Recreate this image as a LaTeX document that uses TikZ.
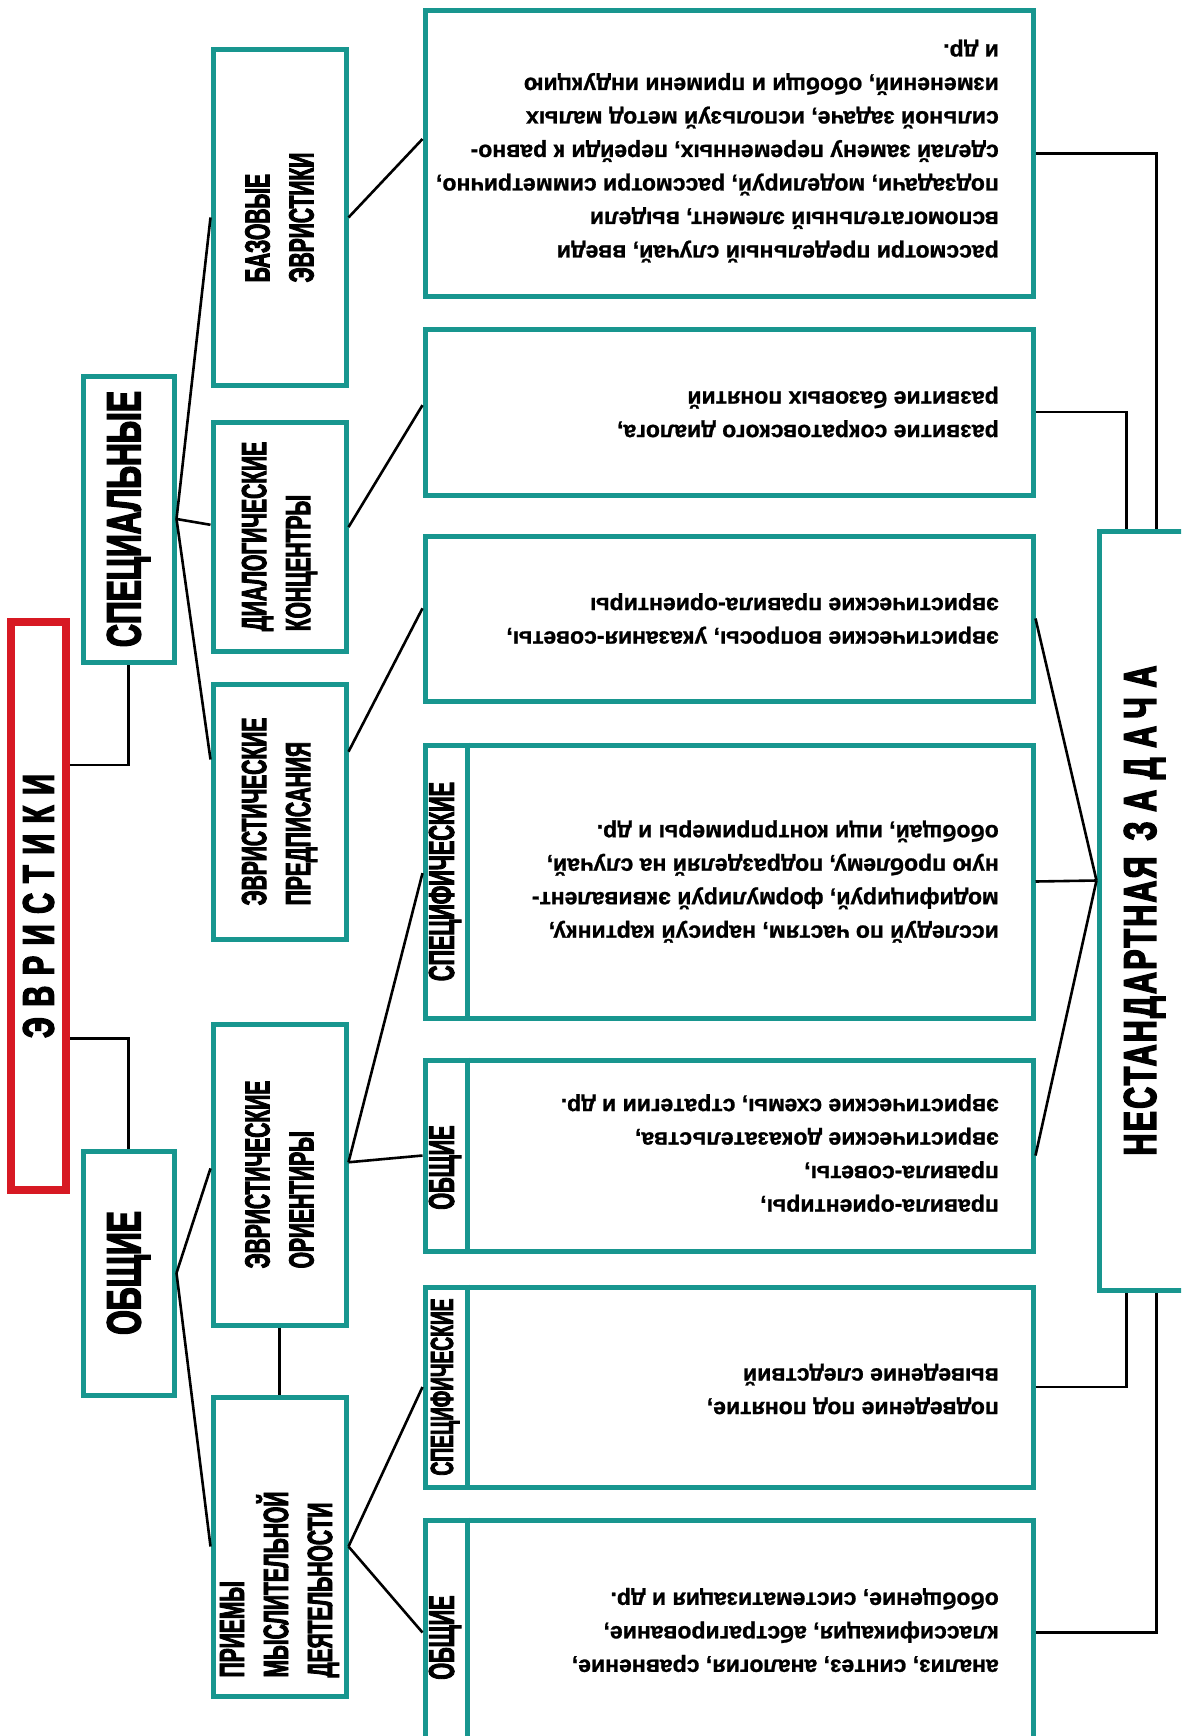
\documentclass[tikz,border=0pt]{standalone}
\usepackage{fontspec}
\setmainfont{Liberation Sans}
\newfontfamily\bodyfont{Liberation Sans}[UprightFont={* Bold}, FakeBold=1]
\newfontfamily\headfont{Liberation Sans}[UprightFont={* Bold}, FakeStretch=0.6, FakeBold=2.5]
\newfontfamily\bigfont{Liberation Sans}[UprightFont={* Bold}, FakeStretch=0.66, FakeBold=3]
\usetikzlibrary{calc}
\definecolor{boxteal}{RGB}{24,150,143}
\definecolor{boxred}{RGB}{215,25,35}
\tikzset{
  tealbox/.style={draw=boxteal, line width=5pt, fill=white, inner sep=0pt},
  redbox/.style={draw=boxred, line width=8pt, fill=white, inner sep=0pt},
  link/.style={line width=2.6pt},
  headlbl/.style={rotate=90, align=left, inner sep=0pt, font=\headfont\fontsize{35}{44}\selectfont},
  bandlbl/.style={rotate=90, inner sep=0pt, font=\headfont\fontsize{36}{38}\selectfont},
  biglbl/.style={rotate=90, inner sep=0pt, font=\bigfont\fontsize{48}{50}\selectfont},
  bodytxt/.style={rotate=180, anchor=west, align=left, inner sep=0pt, font=\bodyfont\fontsize{23}{33.5}\selectfont},
}

\begin{document}
\begin{tikzpicture}[x=1pt,y=-1pt]
\useasboundingbox (0,0) rectangle (1181,1736);
\clip (0,0) rectangle (1181,1736);

% root
\node[redbox, minimum width=55pt, minimum height=568pt] (evr) at (38.5,906) {};
\node[biglbl, font=\bigfont\fontsize{44}{46}\selectfont] (evrt) at (evr.center) {\addfontfeature{LetterSpace=24}ЭВРИСТИКИ};

% first level
\node[tealbox, minimum width=91pt, minimum height=286pt] (spec) at (128.5,519) {};
\node[biglbl] (spect) at (spec.center) {СПЕЦИАЛЬНЫЕ};
\node[tealbox, minimum width=91pt, minimum height=244pt] (obsh) at (128.5,1273) {};
\node[biglbl] (obsht) at (obsh.center) {ОБЩИЕ};

% second level
\node[tealbox, minimum width=133pt, minimum height=335pt] (baz) at (279.5,217.5) {};
\node[headlbl] (bazt) at (baz.center) {БАЗОВЫЕ\\ЭВРИСТИКИ};
\node[tealbox, minimum width=133pt, minimum height=229pt] (dial) at (279.5,536.5) {};
\node[headlbl] (dialt) at (dial.center) {ДИАЛОГИЧЕСКИЕ\\КОНЦЕНТРЫ};
\node[tealbox, minimum width=133pt, minimum height=255pt] (presc) at (279.5,811.5) {};
\node[headlbl] (presct) at (presc.center) {ЭВРИСТИЧЕСКИЕ\\ПРЕДПИСАНИЯ};
\node[tealbox, minimum width=133pt, minimum height=301pt] (orient) at (279.5,1174.5) {};
\node[headlbl] (orientt) at (orient.center) {ЭВРИСТИЧЕСКИЕ\\ОРИЕНТИРЫ};
\node[tealbox, minimum width=133pt, minimum height=299pt] (priem) at (279.5,1546.5) {};
\node[headlbl] (priemt) at ([yshift=-38pt]priem.center) {ПРИЕМЫ\\МЫСЛИТЕЛЬНОЙ\\ДЕЯТЕЛЬНОСТИ};

% third level
\node[tealbox, minimum width=608pt, minimum height=285pt] (b1) at (729,153.5) {};
\node[bodytxt] (b1t) at (999,151) {рассмотри предельный случай, введи\\вспомогательный элемент, выдели\\подзадачи, моделируй, рассмотри симметрично,\\сделай замену переменных, перейди к равно-\\сильной задаче, используй метод малых\\изменений, обобщи и примени индукцию\\и др.};
\node[tealbox, minimum width=608pt, minimum height=166pt] (b2) at (729,412) {};
\node[bodytxt] (b2t) at (999,412) {развитие сократовского диалога,\\развитие базовых понятий};
\node[tealbox, minimum width=608pt, minimum height=165pt] (b3) at (729,618.5) {};
\node[bodytxt] (b3t) at (999,618.5) {эвристические вопросы, указания-советы,\\эвристические правила-ориентиры};
\node[tealbox, minimum width=608pt, minimum height=273pt] (b4) at (729,881.5) {};
\node[bodytxt] (b4t) at (999,881.5) {исследуй по частям, нарисуй картинку,\\модифицируй, формулируй эквивалент-\\ную проблему, подразделяй на случай,\\обобщай, ищи контрпримеры и др.};
\node[tealbox, minimum width=608pt, minimum height=191pt] (b5) at (729,1155.5) {};
\node[bodytxt] (b5t) at (999,1153) {правила-ориентиры,\\правила-советы,\\эвристические доказательства,\\эвристические схемы, стратегии и др.};
\node[tealbox, minimum width=608pt, minimum height=200pt] (b6) at (729,1387) {};
\node[bodytxt] (b6t) at (999,1389) {подведение под понятие,\\выведение следствий};
\node[tealbox, minimum width=608pt, minimum height=225pt] (b7) at (729,1632.5) {};
\node[bodytxt] (b7t) at (999,1630) {анализ, синтез, аналогия, сравнение,\\классификация, абстрагирование,\\обобщение, систематизация и др.};

% side bands
\foreach \b in {b4,b5,b6,b7}
  \draw[boxteal, line width=5pt] ([xshift=45pt]\b.north west) -- ([xshift=45pt]\b.south west);
\node[bandlbl] (b4s) at ([xshift=22.5pt]b4.west) {СПЕЦИФИЧЕСКИЕ};
\node[bandlbl] (b5s) at ([xshift=22.5pt,yshift=-12pt]b5.west) {ОБЩИЕ};
\node[bandlbl, font=\headfont\fontsize{32}{34}\selectfont] (b6s) at ([xshift=22.5pt]b6.west) {СПЕЦИФИЧЕСКИЕ};
\node[bandlbl] (b7s) at ([xshift=22.5pt,yshift=-5pt]b7.west) {ОБЩИЕ};

% target
\node[tealbox, minimum width=91pt, minimum height=759pt] (nz) at (1144.5,910.5) {};
\node[biglbl, font=\bigfont\fontsize{46}{48}\selectfont] (nzt) at (nz.center) {{\addfontfeature{LetterSpace=5}НЕСТАНДАРТНАЯ}\hspace{16pt}{\addfontfeature{LetterSpace=21}ЗАДАЧА}};
\coordinate (nzin) at ([yshift=30pt]nz.west);

% links
\draw[link] ($(evr.north east)!0.255!(evr.south east)$) -| (spec.south);
\draw[link] ($(evr.north east)!0.73!(evr.south east)$) -| (obsh.north);
\draw[link] (spec.east) -- (baz.west);
\draw[link] (spec.east) -- ($(dial.north west)!0.45!(dial.south west)$);
\draw[link] (spec.east) -- ($(presc.north west)!0.3!(presc.south west)$);
\draw[link] (obsh.east) -- ($(orient.north west)!0.48!(orient.south west)$);
\draw[link] (obsh.east) -- (priem.west);
\draw[link] (orient.south) -- (priem.north);
\draw[link] (baz.east) -- ($(b1.north west)!0.45!(b1.south west)$);
\draw[link] ($(dial.north east)!0.46!(dial.south east)$) -- ($(b2.north west)!0.46!(b2.south west)$);
\draw[link] ($(presc.north east)!0.27!(presc.south east)$) -- ($(b3.north west)!0.44!(b3.south west)$);
\draw[link] ($(orient.north east)!0.46!(orient.south east)$) -- ($(b4.north west)!0.47!(b4.south west)$);
\draw[link] ($(orient.north east)!0.46!(orient.south east)$) -- (b5.west);
\draw[link] (priem.east) -- (b6.west);
\draw[link] (priem.east) -- (b7.west);
\draw[link] (b1.east) -| ([xshift=60pt]nz.north west);
\draw[link] (b2.east) -| ([xshift=30pt]nz.north west);
\draw[link] (b3.east) -- (nzin);
\draw[link] (b4.east) -- (nzin);
\draw[link] (b5.east) -- (nzin);
\draw[link] (b6.east) -| ([xshift=30pt]nz.south west);
\draw[link] (b7.east) -| ([xshift=60pt]nz.south west);
\end{tikzpicture}
\end{document}
